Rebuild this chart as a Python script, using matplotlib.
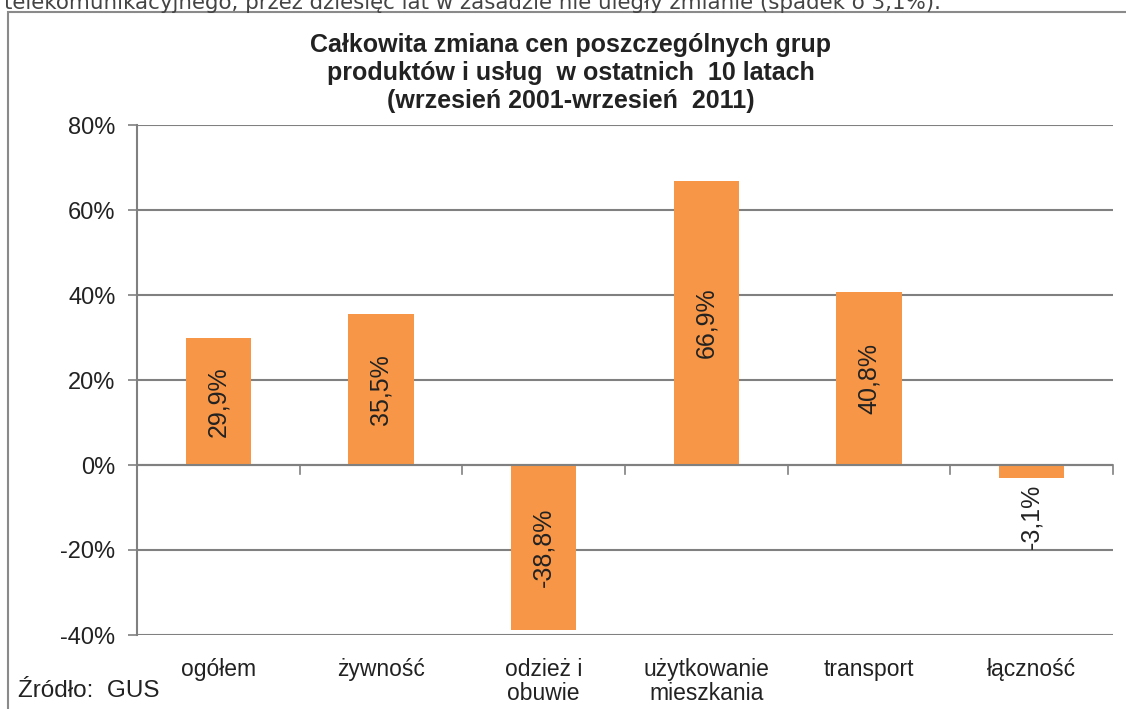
import matplotlib
matplotlib.use('Agg')
import matplotlib.pyplot as plt
from matplotlib.patches import Rectangle

# data
categories = ['ogółem', 'żywność', 'odzież i\nobuwie', 'użytkowanie\nmieszkania', 'transport', 'łączność']
values = [29.9, 35.5, -38.8, 66.9, 40.8, -3.1]
value_labels = ['29,9%', '35,5%', '-38,8%', '66,9%', '40,8%', '-3,1%']
y_ticks = [-40, -20, 0, 20, 40, 60, 80]

title = 'Całkowita zmiana cen poszczególnych grup\nproduktów i usług  w ostatnich  10 latach\n(wrzesień 2001-wrzesień  2011)'
top_text = 'telekomunikacyjnego, przez dziesięć lat w zasadzie nie uległy zmianie (spadek o 3,1%).'
source = 'Źródło:  GUS'

W, H = 1126, 709
fig = plt.figure(figsize=(W / 100, H / 100), dpi=100)
fig.patch.set_facecolor('white')

def fx(px):
    return px / W

def fy(py):
    return 1 - py / H

# text of the article cut off at the top
fig.text(fx(4), fy(9), top_text, fontsize=15.4, family='DejaVu Sans',
         color='#444444', ha='left', va='baseline')

# chart frame
fig.patches.append(Rectangle((fx(8), fy(740)), fx(1140) - fx(8), fy(12) - fy(740),
                             transform=fig.transFigure, fill=False,
                             edgecolor='#8a8a8a', linewidth=1.5))

ax = fig.add_axes([fx(137), fy(635), fx(1113) - fx(137), fy(125) - fy(635)])
x = range(len(categories))
ax.bar(x, values, width=0.4, color='#F79646', zorder=3)

ax.set_xlim(-0.5, len(categories) - 0.5)
ax.set_ylim(-40, 80)
ax.set_yticks(y_ticks)
ax.set_yticklabels([f'{t}%' for t in y_ticks], fontsize=17, family='Liberation Sans', color='#222222')
ax.yaxis.grid(True, color='#808080', linewidth=1.5, zorder=1)
ax.tick_params(axis='y', length=6.5, width=1.2, color='#808080', pad=9)
ax.set_xticks([])

for s in ['top', 'right', 'bottom']:
    ax.spines[s].set_visible(False)
ax.spines['left'].set_color('#808080')
ax.spines['left'].set_linewidth(1.5)

# category axis at zero with separators pointing down
ax.axhline(0, color='#808080', linewidth=1.5, zorder=4)
for i in range(1, len(categories) + 1):
    ax.plot([i - 0.5, i - 0.5], [0, -2], color='#808080', linewidth=1.2, zorder=4, clip_on=False)

# category labels under the plot
for i, c in enumerate(categories):
    ax.text(i, -45.5, c, ha='center', va='top', fontsize=16.5, family='Liberation Sans',
            color='#222222', linespacing=1.05)

# value labels
for i, (v, lab) in enumerate(zip(values, value_labels)):
    if abs(v) > 10:
        ax.text(i, v / 2, lab, rotation=90, ha='center', va='center', fontsize=18,
                family='Liberation Sans', color='#222222', zorder=5)
    else:
        ax.annotate(lab, (i, v), xytext=(0, -4), textcoords='offset points', rotation=90,
                    ha='center', va='top', fontsize=18, family='Liberation Sans',
                    color='#222222', zorder=5)

fig.text(fx(571), fy(33), title, ha='center', va='top', fontsize=18, fontweight='bold',
         family='Liberation Sans', color='#222222', linespacing=1.22)

fig.text(fx(18), fy(691), source, ha='left', va='center', fontsize=17.5,
         family='Liberation Sans', color='#222222')

fig.savefig('out.png', dpi=100)
